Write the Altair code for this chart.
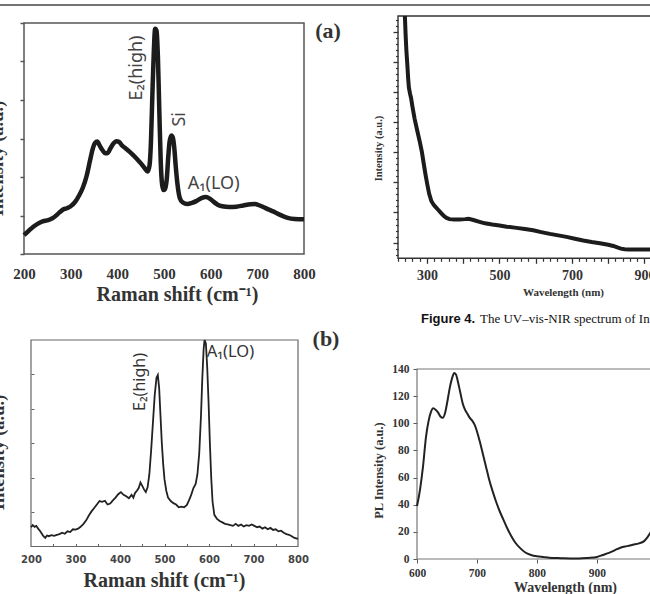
import altair as alt
import pandas as pd

W, H = 650, 594
SERIF = "Liberation Serif"
SANS = "Noto Sans"

# ---------------- data ----------------
# (a) Raman spectrum
a_shift = [200, 210, 220, 230, 240, 252, 260, 268, 276, 283, 292, 300, 310, 318, 326, 334, 341, 347,
           352, 357, 362, 368, 374, 379, 385, 391, 398, 404, 410, 418, 426, 434, 442, 450, 458, 465,
           469, 472, 475, 478, 481, 484, 487, 490, 493, 496, 499, 502, 506, 509, 512, 516, 519, 522,
           525, 529, 534, 540, 550, 560, 570, 580, 590, 598, 606, 615, 625, 640, 655, 670, 685, 695,
           705, 720, 735, 750, 765, 780, 800]
a_int = [0.49, 0.60, 0.71, 0.79, 0.85, 0.88, 0.92, 0.99, 1.08, 1.15, 1.19, 1.24, 1.36, 1.52, 1.72,
         2.02, 2.40, 2.72, 2.88, 2.92, 2.82, 2.70, 2.62, 2.62, 2.74, 2.86, 2.93, 2.91, 2.82, 2.74,
         2.66, 2.57, 2.47, 2.36, 2.24, 2.14, 2.30, 2.90, 4.10, 5.20, 5.85, 5.80, 5.10, 3.70, 2.40,
         1.80, 1.66, 1.68, 1.96, 2.50, 2.92, 3.08, 3.02, 2.76, 2.30, 1.80, 1.45, 1.34, 1.30, 1.33,
         1.38, 1.45, 1.48, 1.44, 1.36, 1.28, 1.24, 1.22, 1.23, 1.26, 1.29, 1.30, 1.26, 1.18, 1.10,
         1.01, 0.94, 0.91, 0.90]
a_xdom, a_ydom = [200, 800], [0, 6]
a_xticks = [200, 300, 400, 500, 600, 700, 800]
a_yticks = [0, 1, 2, 3, 4, 5, 6]

# (b) Raman spectrum
b_shift = [200, 204, 208, 212, 216, 220, 224, 228, 232, 236, 240, 246, 252, 258, 264, 270, 276, 282,
           288, 294, 300, 306, 312, 318, 324, 330, 336, 342, 348, 354, 360, 366, 372, 378, 384, 390,
           396, 402, 408, 414, 420, 426, 430, 434, 438, 442, 446, 450, 454, 458, 462, 466, 470, 474,
           478, 482, 485, 488, 491, 494, 497, 500, 504, 508, 514, 520, 526, 532, 538, 544, 550, 555,
           560, 565, 570, 574, 578, 582, 585, 588, 590, 593, 596, 599, 602, 605, 608, 612, 618, 624,
           630, 636, 642, 648, 654, 660, 666, 672, 678, 684, 690, 696, 702, 708, 714, 720, 726, 732,
           738, 744, 750, 756, 762, 768, 774, 780, 786, 792, 800]
b_int = [0.56, 0.62, 0.57, 0.60, 0.52, 0.46, 0.38, 0.30, 0.25, 0.32, 0.30, 0.33, 0.31, 0.34, 0.36,
         0.40, 0.37, 0.44, 0.42, 0.50, 0.49, 0.52, 0.58, 0.66, 0.76, 0.90, 1.02, 1.12, 1.22, 1.32,
         1.30, 1.33, 1.22, 1.25, 1.34, 1.42, 1.52, 1.58, 1.50, 1.46, 1.40, 1.50, 1.42, 1.56, 1.62,
         1.70, 1.86, 1.76, 1.66, 1.58, 1.72, 2.10, 2.80, 3.60, 4.40, 4.90, 4.98, 4.60, 3.80, 3.00,
         2.40, 1.95, 1.62, 1.42, 1.32, 1.26, 1.22, 1.14, 1.16, 1.14, 1.20, 1.34, 1.50, 1.70, 1.82,
         2.10, 2.70, 3.80, 4.90, 5.75, 6.00, 5.90, 5.20, 4.20, 3.00, 2.00, 1.30, 0.92, 0.80, 0.74,
         0.70, 0.66, 0.64, 0.62, 0.60, 0.66, 0.60, 0.64, 0.58, 0.62, 0.60, 0.64, 0.60, 0.56, 0.58,
         0.52, 0.56, 0.50, 0.54, 0.48, 0.50, 0.44, 0.46, 0.40, 0.36, 0.34, 0.30, 0.25, 0.22]
b_xdom, b_ydom = [200, 800], [0, 6]
b_xlabels = [200, 300, 400, 500, 600, 700, 800]
b_xticks = [250, 300, 350, 400, 450, 500, 550, 600, 650, 700, 750]
b_yticks = [1, 2, 3, 4, 5]

# UV-vis-NIR spectrum
uv_wl = [239, 241, 243, 246, 248, 250, 253, 256, 260, 266, 273, 280, 286, 291, 296, 301, 306, 312,
         318, 324, 330, 336, 342, 348, 354, 362, 375, 390, 405, 415, 428, 445, 460, 480, 500, 520,
         547, 570, 593, 615, 639, 662, 685, 708, 731, 754, 777, 800, 814, 825, 835, 845, 856, 880,
         900, 920]
uv_int = [7.52, 6.90, 6.40, 5.86, 5.45, 5.15, 4.95, 4.80, 4.50, 4.10, 3.72, 3.35, 3.00, 2.62, 2.25,
          1.92, 1.62, 1.38, 1.26, 1.18, 1.10, 1.02, 0.94, 0.87, 0.82, 0.78, 0.77, 0.77, 0.78, 0.79,
          0.75, 0.69, 0.64, 0.60, 0.57, 0.53, 0.49, 0.45, 0.41, 0.35, 0.29, 0.24, 0.19, 0.13, 0.07,
          0.02, -0.02, -0.07, -0.11, -0.16, -0.20, -0.22, -0.23, -0.23, -0.23, -0.23]
uv_xdom, uv_ydom = [220, 920.7], [-0.52, 7.52]
uv_xmajor = [300, 400, 500, 600, 700, 800, 900]
uv_xminor = [220, 240, 260, 280, 320, 340, 360, 380, 420, 440, 460, 480, 520, 540, 560, 580,
             620, 640, 660, 680, 720, 740, 760, 780, 820, 840, 860, 880, 920]
uv_ymajor = [0, 1, 2, 3, 4, 5, 6, 7]
uv_yminor = [-0.4, -0.2, 0.2, 0.4, 0.6, 0.8, 1.2, 1.4, 1.6, 1.8, 2.2, 2.4, 2.6, 2.8, 3.2, 3.4,
             3.6, 3.8, 4.2, 4.4, 4.6, 4.8, 5.2, 5.4, 5.6, 5.8, 6.2, 6.4, 6.6, 6.8, 7.2, 7.4]

# PL spectrum
pl_wl = [600, 605, 610, 615, 619, 623, 627, 631, 635, 639, 643, 647, 651, 655, 659, 662, 665, 668,
         672, 676, 680, 684, 688, 692, 696, 700, 705, 710, 715, 720, 726, 732, 738, 744, 750, 757,
         764, 772, 780, 790, 800, 810, 825, 840, 855, 870, 885, 900, 910, 920, 930, 940, 950, 960,
         970, 978, 984, 990]
pl_int = [39, 51, 68, 90, 101, 108, 111, 110, 108, 105, 104, 108, 117, 127, 134, 137, 136, 131,
          123, 115, 110, 107, 104, 102, 99, 94, 86, 77, 68, 59, 50, 42, 35, 29, 23, 17, 12, 8, 5,
          3, 2, 1.5, 0.8, 0.6, 0.4, 0.4, 0.8, 1.5, 3, 4.5, 6.5, 8.5, 9.5, 10.5, 11.5, 13, 16, 20]
pl_xdom, pl_ydom = [600, 991.7], [0, 140]
pl_xticks = [600, 700, 800, 900]
pl_yticks = [0, 20, 40, 60, 80, 100, 120, 140]

# annotations
a_rot = pd.DataFrame({"x": [442, 534], "y": [4.83, 3.5], "t": ["E\u2082(high)", "Si"]})
a_hor = pd.DataFrame({"x": [551], "y": [1.82], "t": ["A\u2081(LO)"]})
b_rot = pd.DataFrame({"x": [445], "y": [4.78], "t": ["E\u2082(high)"]})
b_hor = pd.DataFrame({"x": [595], "y": [5.65], "t": ["A\u2081(LO)"]})


def sc(dom, rng):
    return alt.Scale(domain=dom, range=rng, nice=False, zero=False)


def frame_df(xd, yd):
    return pd.DataFrame({"x0": [xd[0]], "x1": [xd[1]], "y0": [yd[0]], "y1": [yd[1]]})


def frame(xd, yd, xs, ys, color, width, xaxis=None, yaxis=None):
    return alt.Chart(frame_df(xd, yd)).mark_rect(fillOpacity=0, stroke=color, strokeWidth=width).encode(
        x=alt.X("x0:Q", scale=xs, axis=xaxis), x2="x1:Q",
        y=alt.Y("y0:Q", scale=ys, axis=yaxis), y2="y1:Q")


def ann(df, xs, ys, angle, align, size, color):
    return alt.Chart(df).mark_text(angle=angle, align=align, baseline="middle", font=SANS,
                                   fontSize=size, color=color).encode(
        x=alt.X("x:Q", scale=xs, axis=None), y=alt.Y("y:Q", scale=ys, axis=None), text="t:N")


# ---------------- panel (a) ----------------
A_L, A_R, A_T, A_B = 24, 304, 23, 254
xa, ya = sc(a_xdom, [A_L, A_R]), sc(a_ydom, [A_B, A_T])
a_line = alt.Chart(pd.DataFrame({"x": a_shift, "y": a_int})).mark_line(
    color="#1c1c1c", strokeWidth=4.5, interpolate="monotone").encode(
    x=alt.X("x:Q", scale=xa, axis=alt.Axis(
        orient="bottom", offset=A_B - H, values=a_xticks, ticks=False, domain=False, labelFlush=False,
        labelFont=SERIF, labelFontWeight="bold", labelFontSize=15, labelColor="#333", labelPadding=12,
        title="Raman shift (cm\u207b\u00b9)", titleFont=SERIF, titleFontWeight="bold", titleFontSize=20,
        titleColor="#333", titleX=177, titleY=294 - A_B, titleAlign="center", titleBaseline="middle")),
    y=alt.Y("y:Q", scale=ya, axis=alt.Axis(
        orient="left", offset=-A_L, values=a_yticks, labels=False, domain=False, tickSize=4,
        tickColor="#555", tickWidth=1.5,
        title="Intensity (a.u.)", titleFont=SERIF, titleFontWeight="bold", titleFontSize=18.5,
        titleColor="#333", titleAngle=270, titleX=2 - A_L, titleY=158, titleAlign="center",
        titleBaseline="alphabetic")),
)
panel_a = alt.layer(
    frame(a_xdom, a_ydom, xa, ya, "#555", 1.5),
    a_line,
    ann(a_rot, xa, ya, 270, "center", 18, "#444"),
    ann(a_hor, xa, ya, 0, "left", 18, "#444"),
).resolve_axis(x="independent", y="independent")

# ---------------- panel (b) ----------------
B_L, B_R, B_T, B_B = 31, 298, 340, 546.5
xb, yb = sc(b_xdom, [B_L, B_R]), sc(b_ydom, [B_B, B_T])
b_line = alt.Chart(pd.DataFrame({"x": b_shift, "y": b_int})).mark_line(
    color="#222", strokeWidth=1.8).encode(
    x=alt.X("x:Q", scale=xb, axis=alt.Axis(
        orient="bottom", offset=B_B - H, values=b_xlabels, ticks=False, domain=False, labelFlush=False,
        labelFont="DejaVu Sans", labelFontWeight="bold", labelFontSize=10, labelColor="#444",
        labelPadding=8,
        title="Raman shift (cm\u207b\u00b9)", titleFont=SERIF, titleFontWeight="bold", titleFontSize=20,
        titleColor="#333", titleX=164, titleY=580 - B_B, titleAlign="center", titleBaseline="middle")),
    y=alt.Y("y:Q", scale=yb, axis=None),
)
b_frame = frame(
    b_xdom, b_ydom, xb, yb, "#666", 1.2,
    xaxis=alt.Axis(orient="top", offset=-B_B, values=b_xticks, labels=False, domain=False,
                   tickSize=3, tickColor="#666", title=None),
    yaxis=alt.Axis(orient="right", offset=B_L - W, values=b_yticks, labels=False, domain=False,
                   tickSize=3, tickColor="#666",
                   title="Intensity (a.u.)", titleFont=SERIF, titleFontWeight="bold", titleFontSize=18.5,
                   titleColor="#333", titleAngle=270, titleX=3 - B_L, titleY=452, titleAlign="center",
                   titleBaseline="alphabetic"))
panel_b = alt.layer(
    b_frame,
    b_line,
    ann(b_rot, xb, yb, 270, "center", 16, "#333"),
    ann(b_hor, xb, yb, 0, "left", 16.5, "#333"),
).resolve_axis(x="independent", y="independent")

# ---------------- UV-vis-NIR panel ----------------
U_L, U_R, U_T, U_B = 398, 652, 16, 258.3
xu, yu = sc(uv_xdom, [U_L, U_R]), sc(uv_ydom, [U_B, U_T])
uv_line = alt.Chart(pd.DataFrame({"x": uv_wl, "y": uv_int})).mark_line(
    color="#1c1c1c", strokeWidth=4).encode(
    x=alt.X("x:Q", scale=xu, axis=alt.Axis(
        orient="bottom", offset=U_B - H, values=uv_xmajor, domain=False, labelFlush=False,
        tickSize=5, tickColor="#333", tickWidth=1.3,
        labelExpr="datum.value % 200 == 100 ? datum.label : ''",
        labelFont=SERIF, labelFontWeight="bold", labelFontSize=14, labelColor="#333", labelPadding=5,
        title="Wavelength (nm)", titleFont=SERIF, titleFontWeight="bold", titleFontSize=11,
        titleColor="#333", titleX=563, titleY=292 - U_B, titleAlign="center", titleBaseline="middle")),
    y=alt.Y("y:Q", scale=yu, axis=alt.Axis(
        orient="left", offset=-U_L, values=uv_ymajor, labels=False, domain=False,
        tickSize=5, tickColor="#333", tickWidth=1.3,
        title="Intensity  (a.u.)", titleFont=SERIF, titleFontWeight="bold", titleFontSize=10.5,
        titleColor="#333", titleAngle=270, titleX=378 - U_L, titleY=148, titleAlign="center",
        titleBaseline="middle")),
)
uv_frame = frame(
    uv_xdom, uv_ydom, xu, yu, "#333", 1.4,
    xaxis=alt.Axis(orient="bottom", offset=U_B - H, values=uv_xminor, labels=False, domain=False,
                   tickSize=3, tickColor="#333", tickWidth=1.2, title=None),
    yaxis=alt.Axis(orient="left", offset=-U_L, values=uv_yminor, labels=False, domain=False,
                   tickSize=2.5, tickColor="#333", tickWidth=1.2, title=None))
panel_uv = alt.layer(uv_frame, uv_line).resolve_axis(x="independent", y="independent")

# ---------------- PL panel ----------------
P_L, P_R, P_T, P_B = 417, 652, 369, 559
xp, yp = sc(pl_xdom, [P_L, P_R]), sc(pl_ydom, [P_B, P_T])
pl_line = alt.Chart(pd.DataFrame({"x": pl_wl, "y": pl_int})).mark_line(
    color="#222", strokeWidth=2, interpolate="monotone").encode(
    x=alt.X("x:Q", scale=xp, axis=alt.Axis(
        orient="bottom", offset=P_B - H, values=pl_xticks, domain=False, labelFlush=False,
        tickSize=4, tickColor="#555",
        labelFont=SERIF, labelFontWeight="bold", labelFontSize=11.5, labelColor="#333", labelPadding=4,
        title="Wavelength (nm)", titleFont=SERIF, titleFontWeight="bold", titleFontSize=14,
        titleColor="#333", titleX=565, titleY=587 - P_B, titleAlign="center", titleBaseline="middle")),
    y=alt.Y("y:Q", scale=yp, axis=alt.Axis(
        orient="left", offset=-P_L, values=pl_yticks, domain=False,
        tickSize=4, tickColor="#555", labelFlush=False,
        labelFont=SERIF, labelFontWeight="bold", labelFontSize=11.5, labelColor="#333", labelPadding=4,
        title="PL Intensity (a.u.)", titleFont=SERIF, titleFontWeight="bold", titleFontSize=12.5,
        titleColor="#333", titleAngle=270, titleX=378 - P_L, titleY=470, titleAlign="center",
        titleBaseline="middle")),
)
panel_pl = alt.layer(frame(pl_xdom, pl_ydom, xp, yp, "#777", 1.2), pl_line).resolve_axis(
    x="independent", y="independent")

# ---------------- decorations ----------------
one = pd.DataFrame({"k": [0]})
header = alt.Chart(one).mark_rule(color="#444", strokeWidth=1.5).encode(
    x=alt.value(0), x2=alt.value(W), y=alt.value(5))
lab_a = alt.Chart(pd.DataFrame({"t": ["(a)"]})).mark_text(
    font=SERIF, fontWeight="bold", fontSize=22, color="#333", align="center", baseline="middle").encode(
    text="t:N", x=alt.value(328), y=alt.value(31))
lab_b = alt.Chart(pd.DataFrame({"t": ["(b)"]})).mark_text(
    font=SERIF, fontWeight="bold", fontSize=22, color="#333", align="center", baseline="middle").encode(
    text="t:N", x=alt.value(326), y=alt.value(339))
cap1 = alt.Chart(pd.DataFrame({"t": ["Figure 4."]})).mark_text(
    font="Liberation Sans", fontWeight="bold", fontSize=13, color="#111", align="left",
    baseline="middle").encode(text="t:N", x=alt.value(421), y=alt.value(319))
cap2 = alt.Chart(pd.DataFrame({"t": ["The UV\u2013vis-NIR spectrum of In"]})).mark_text(
    font=SERIF, fontSize=13, color="#111", align="left", baseline="middle").encode(
    text="t:N", x=alt.value(480), y=alt.value(319))

chart = alt.layer(
    panel_a, panel_b, panel_uv, panel_pl, header, lab_a, lab_b, cap1, cap2
).resolve_scale(x="independent", y="independent").properties(
    width=W, height=H, padding=0, autosize=alt.AutoSizeParams(type="none"),
    background="white"
).configure_view(stroke=None).configure_axis(grid=False)

chart.save("out.html", embed_options={"renderer": "svg", "actions": False})
